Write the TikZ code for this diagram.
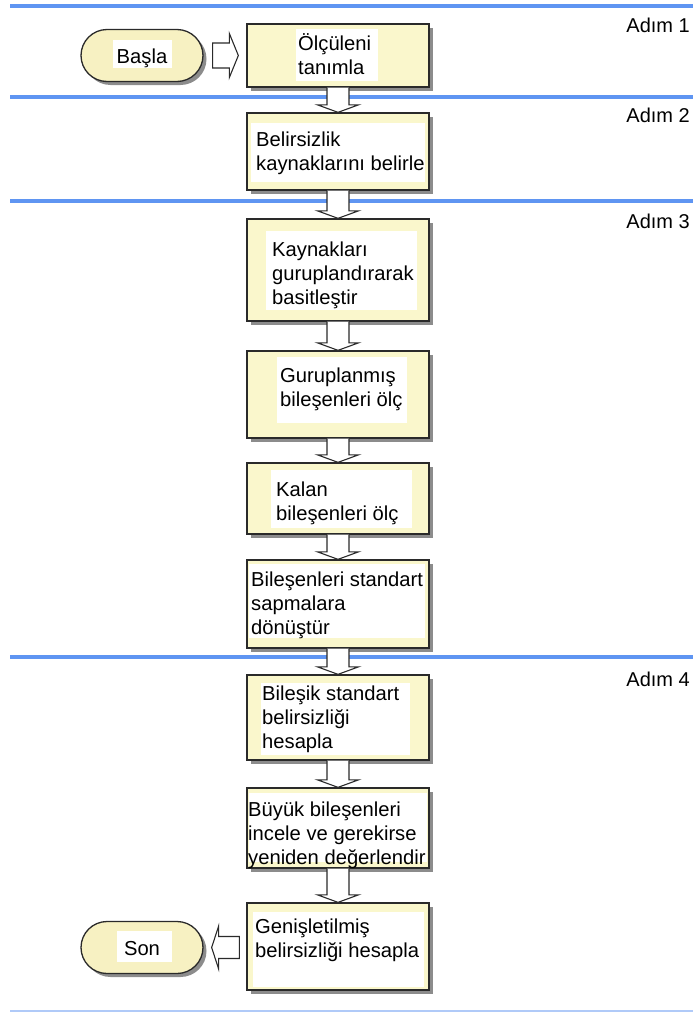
\documentclass[tikz,border=0pt]{standalone}
\usepackage{fontspec}
\setmainfont{Liberation Sans}
\usetikzlibrary{calc,shadows,shapes.misc}

\definecolor{boxfill}{HTML}{FAF7CC}
\definecolor{pillfill}{HTML}{F7F1C2}
\definecolor{stepblue}{HTML}{5F95F2}
\definecolor{endblue}{HTML}{B0CAF8}
\definecolor{edge}{HTML}{2A2A2A}

\tikzset{
  boxshadow/.style={drop shadow={shadow xshift=3.5pt, shadow yshift=-3.5pt, fill=black, opacity=0.45}},
  stepbox/.style={draw=edge, line width=1.3pt, fill=boxfill, minimum width=182pt, inner sep=0pt, boxshadow},
  pill/.style={rounded rectangle, draw=edge, line width=1.3pt, fill=pillfill, minimum width=122pt, minimum height=52pt, inner sep=0pt, boxshadow},
  panel/.style={fill=white},
  label/.style={font=\fontsize{20.2}{24}\selectfont, inner sep=0pt, align=left, text=black},
  steplabel/.style={font=\fontsize{20}{24}\selectfont, inner sep=0pt, anchor=base east},
  divider/.style={stepblue, line width=3.5pt},
  blockarrow/.style={draw=edge, line width=1.1pt, line join=miter},
}

% vertical block arrow from the bottom of one box to the top of the next
\newcommand\downblock[2]{%
  \path let \p1=(#1.south), \p2=(#2.north) in
    [fill=white] (\x1-11pt,\y1) -- (\x1-11pt,\y2+7.5pt) -- (\x1-20.5pt,\y2+7.5pt) -- (\x1,\y2)
      -- (\x1+20.5pt,\y2+7.5pt) -- (\x1+11pt,\y2+7.5pt) -- (\x1+11pt,\y1) -- cycle;
  \path let \p1=(#1.south), \p2=(#2.north) in
    [blockarrow] (\x1-11pt,\y1) -- (\x1-11pt,\y2+7.5pt) -- (\x1-20.5pt,\y2+7.5pt) -- (\x1,\y2)
      -- (\x1+20.5pt,\y2+7.5pt) -- (\x1+11pt,\y2+7.5pt) -- (\x1+11pt,\y1);
}

\begin{document}
\begin{tikzpicture}[x=1pt,y=-1pt]
  \useasboundingbox (0,0) rectangle (693,1012);

  % step dividers
  \draw[divider] (10,6) -- (693,6);
  \draw[divider] (10,97) -- (693,97);
  \draw[divider] (10,201) -- (693,201);
  \draw[divider] (10,657) -- (693,657);
  \draw[endblue, line width=2pt] (10,1010.5) -- (693,1010.5);

  \node[steplabel] (a1) at (690,32) {Adım 1};
  \node[steplabel] (a2) at (690,122) {Adım 2};
  \node[steplabel] (a3) at (690,228) {Adım 3};
  \node[steplabel] (a4) at (690,686) {Adım 4};

  % terminals
  \node[pill] (start) at (142,55.5) {};
  \node[pill] (end) at (142,947.5) {};

  % process boxes
  \node[stepbox, minimum height=63pt]  (b1) at (338,55.5) {};
  \node[stepbox, minimum height=77pt]  (b2) at (338,151.5) {};
  \node[stepbox, minimum height=102pt] (b3) at (338,270) {};
  \node[stepbox, minimum height=87pt]  (b4) at (338,394.5) {};
  \node[stepbox, minimum height=71pt]  (b5) at (338,498.5) {};
  \node[stepbox, minimum height=88pt]  (b6) at (338,604) {};
  \node[stepbox, minimum height=85pt]  (b7) at (338,717.5) {};
  \node[stepbox, minimum height=80pt]  (b8) at (338,828) {};
  \node[stepbox, minimum height=87pt]  (b9) at (338,946.5) {};

  % white text panels
  \fill[panel] (113,40) rectangle (172,68);
  \fill[panel] (117,931) rectangle (172,962);
  \fill[panel] (296,29) rectangle (378,81);
  \fill[panel] (251,123) rectangle (425,182);
  \fill[panel] (266,231) rectangle (417,310);
  \fill[panel] (277,357) rectangle (407,423);
  \fill[panel] (271,470) rectangle (412,528);
  \fill[panel] (249,564) rectangle (425,638);
  \fill[panel] (261,683) rectangle (410,755);
  \fill[panel] (249,793) rectangle (427,862);
  \fill[panel] (253,912) rectangle (424,987);

  % texts (anchored at the baseline of their last line)
  \node[label, anchor=base] (ts) at (142,63) {Başla};
  \node[label, anchor=base] (te) at (142,955) {Son};
  \node[label, anchor=base west] (t1) at (298,74) {Ölçüleni\\tanımla};
  \node[label, anchor=base west] (t2) at (256,170) {Belirsizlik\\kaynaklarını belirle};
  \node[label, anchor=base west] (t3) at (272,304) {Kaynakları\\guruplandırarak\\basitleştir};
  \node[label, anchor=base west] (t4) at (280,406) {Guruplanmış\\bileşenleri ölç};
  \node[label, anchor=base west] (t5) at (276,520) {Kalan\\bileşenleri ölç};
  \node[label, anchor=base west] (t6) at (251,634) {Bileşenleri standart\\sapmalara\\dönüştür};
  \node[label, anchor=base west] (t7) at (262,748) {Bileşik standart\\belirsizliği\\hesapla};
  \node[label, anchor=base west] (t8) at (248,864) {Büyük bileşenleri\\incele ve gerekirse\\yeniden değerlendir};
  \node[label, anchor=base west] (t9) at (255,957) {Genişletilmiş\\belirsizliği hesapla};

  % block arrows between boxes
  \downblock{b1}{b2}
  \downblock{b2}{b3}
  \downblock{b3}{b4}
  \downblock{b4}{b5}
  \downblock{b5}{b6}
  \downblock{b6}{b7}
  \downblock{b7}{b8}
  \downblock{b8}{b9}

  % start -> first box
  \path let \p1=(start.east), \p2=(b1.west) in
    [fill=white, blockarrow] (\x1+9pt,\y1+12.5pt) -- (\x2-17pt,\y1+12.5pt) -- (\x2-17pt,\y1+22pt)
      -- (\x2-8pt,\y1) -- (\x2-17pt,\y1-22pt) -- (\x2-17pt,\y1-12.5pt) -- (\x1+9pt,\y1-12.5pt) -- cycle;
  % last box -> end
  \path let \p1=(end.east), \p2=(b9.west) in
    [fill=white, blockarrow] (\x2-7pt,\y1+11pt) -- (\x1+15pt,\y1+11pt) -- (\x1+15pt,\y1+21.5pt)
      -- (\x1+8pt,\y1) -- (\x1+15pt,\y1-21.5pt) -- (\x1+15pt,\y1-11pt) -- (\x2-7pt,\y1-11pt) -- cycle;
\end{tikzpicture}
\end{document}
